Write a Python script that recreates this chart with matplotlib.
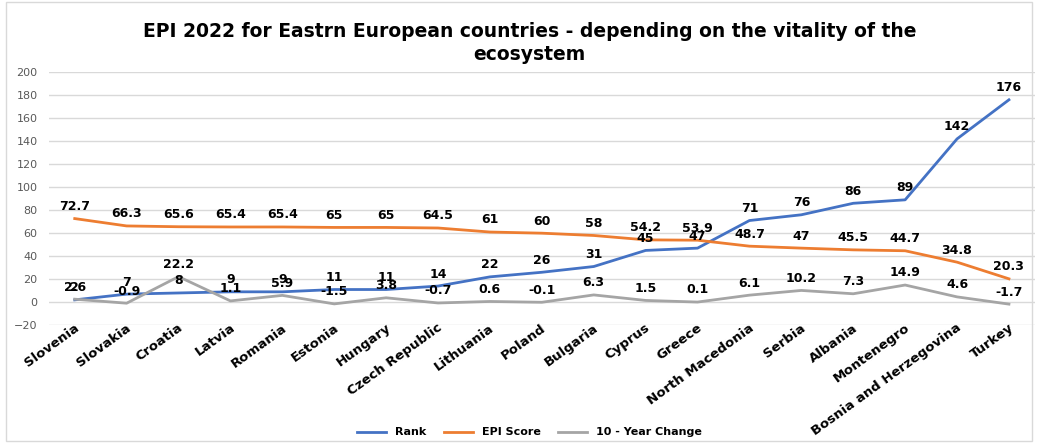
import matplotlib.pyplot as plt
import matplotlib.transforms as mtransforms
from matplotlib.patches import Rectangle

countries = ['Slovenia', 'Slovakia', 'Croatia', 'Latvia', 'Romania', 'Estonia', 'Hungary',
             'Czech Republic', 'Lithuania', 'Poland', 'Bulgaria', 'Cyprus', 'Greece',
             'North Macedonia', 'Serbia', 'Albania', 'Montenegro', 'Bosnia and Herzegovina', 'Turkey']
rank = [2, 7, 8, 9, 9, 11, 11, 14, 22, 26, 31, 45, 47, 71, 76, 86, 89, 142, 176]
epi_score = [72.7, 66.3, 65.6, 65.4, 65.4, 65, 65, 64.5, 61, 60, 58, 54.2, 53.9, 48.7, 47, 45.5, 44.7, 34.8, 20.3]
change_10y = [2.6, -0.9, 22.2, 1.1, 5.9, -1.5, 3.8, -0.7, 0.6, -0.1, 6.3, 1.5, 0.1, 6.1, 10.2, 7.3, 14.9, 4.6, -1.7]

fig = plt.figure(figsize=(10.38, 4.43), dpi=100)
ax = fig.add_axes([0.047, 0.266, 0.95, 0.571])

# light border round the chart, like the Excel chart area
fig.patches.append(Rectangle((0.006, 0.004), 0.988, 0.992, transform=fig.transFigure,
                             fill=False, edgecolor='#d9d9d9', linewidth=1))

x = range(len(countries))
series = [(rank, 'Rank', '#4472c4'), (epi_score, 'EPI Score', '#ed7d31'),
          (change_10y, '10 - Year Change', '#a5a5a5')]
for vals, name, col in series:
    ax.plot(x, vals, color=col, linewidth=2, label=name)
    for i, v in enumerate(vals):
        ax.annotate(f'{v:g}', (i, v), xytext=(0, 4), textcoords='offset points',
                    ha='center', va='bottom', fontsize=9, fontweight='bold', color='black')

ax.set_xlim(-0.5, len(countries) - 0.5)
ax.set_ylim(-20, 200)
ax.set_yticks(range(-20, 201, 20))
ax.tick_params(axis='y', labelsize=8, labelcolor='#595959', length=0, pad=8)
ax.tick_params(axis='x', length=0, pad=1)
ax.set_xticks(list(x))
ax.set_xticklabels(countries, rotation=36, ha='right', va='center', rotation_mode='anchor',
                   fontsize=9.5, fontweight='bold')
shift = mtransforms.ScaledTranslation(3 / 100, 0, fig.dpi_scale_trans)
for lab in ax.get_xticklabels():
    lab.set_transform(lab.get_transform() + shift)
ax.grid(axis='y', color='#d9d9d9', linewidth=1)
ax.set_axisbelow(True)
for s in ax.spines.values():
    s.set_visible(False)

fig.suptitle('EPI 2022 for Eastrn European countries - depending on the vitality of the\necosystem',
             x=0.51, y=0.95, fontsize=13.5, fontweight='bold', linespacing=1.25)

leg = fig.legend(loc='lower center', ncol=3, bbox_to_anchor=(0.51, -0.01), frameon=False,
                 prop={'size': 8, 'weight': 'bold'}, handlelength=2.6, columnspacing=1.6)

fig.savefig('out.png', dpi=100)
